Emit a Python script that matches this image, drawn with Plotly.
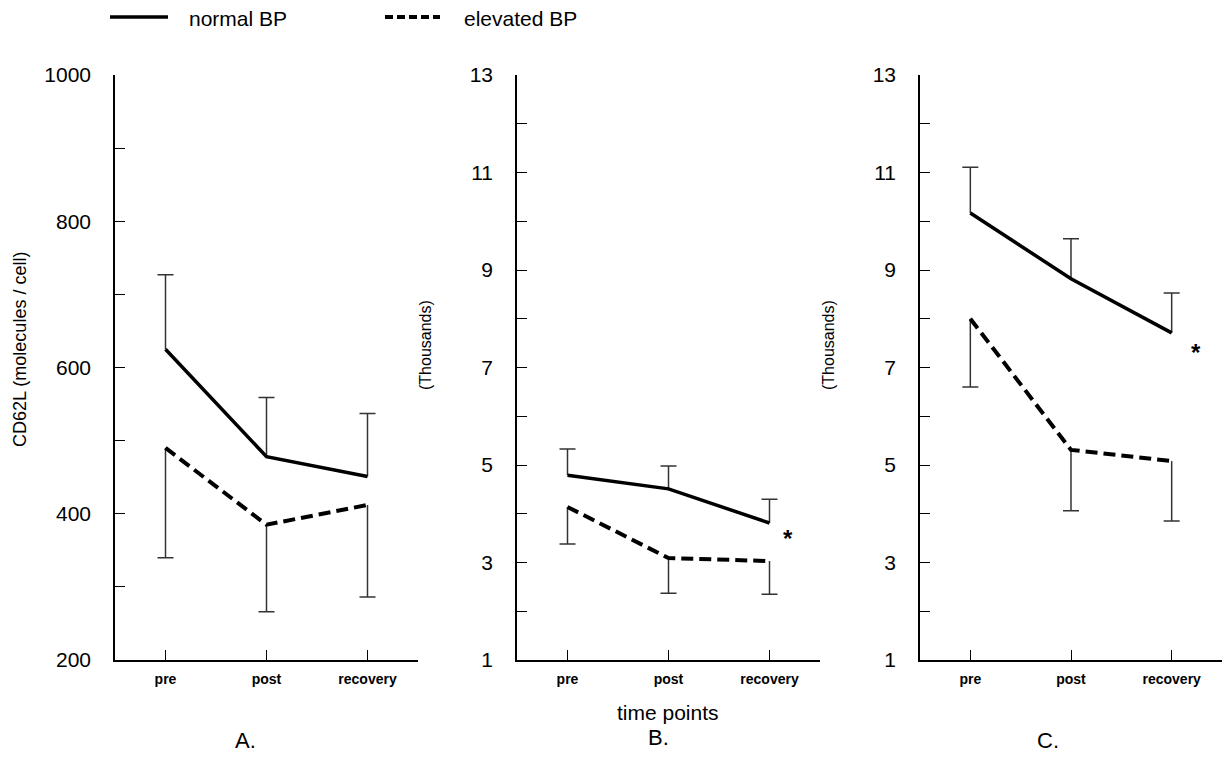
import plotly.graph_objects as go
from plotly.subplots import make_subplots

# ---------------- data ----------------
categories = ["pre", "post", "recovery"]

# Panel A: CD62L (molecules / cell)
a_normal = [625, 478, 451]
a_normal_upper = [727, 559, 537]
a_elevated = [490, 385, 412]
a_elevated_lower = [340, 266, 286]

# Panel B (Thousands)
b_normal = [4.79, 4.51, 3.81]
b_normal_upper = [5.33, 4.98, 4.30]
b_elevated = [4.14, 3.09, 3.03]
b_elevated_lower = [3.38, 2.37, 2.35]

# Panel C (Thousands)
c_normal = [10.17, 8.82, 7.71]
c_normal_upper = [11.11, 9.64, 8.53]
c_elevated = [8.0, 5.31, 5.08]
c_elevated_lower = [6.6, 4.06, 3.85]

a_ticks = [200, 400, 600, 800, 1000]
bc_ticks = [1, 3, 5, 7, 9, 11, 13]

series_names = ["normal BP", "elevated BP"]

FONT = "Liberation Sans, Arial, sans-serif"
W, H = 1229, 776

fig = make_subplots(rows=1, cols=3)

panels = [
    (1, a_normal, a_normal_upper, a_elevated, a_elevated_lower),
    (2, b_normal, b_normal_upper, b_elevated, b_elevated_lower),
    (3, c_normal, c_normal_upper, c_elevated, c_elevated_lower),
]

ERR_COLOR = "#333333"

def err_traces(col, mean, bound, up):
    diff = [abs(b - m) for b, m in zip(bound, mean)]
    zeros = [0] * len(mean)
    # vertical bar (no caps)
    fig.add_trace(go.Scatter(
        x=categories, y=mean, mode="markers",
        marker=dict(size=1, opacity=0),
        error_y=dict(type="data", symmetric=False,
                     array=diff if up else zeros,
                     arrayminus=zeros if up else diff,
                     width=0, thickness=1.5, color=ERR_COLOR),
        showlegend=False, hoverinfo="skip"), row=1, col=col)
    # cap at the end of the bar
    fig.add_trace(go.Scatter(
        x=categories, y=bound, mode="markers",
        marker=dict(size=1, opacity=0),
        error_y=dict(type="data", array=zeros, width=8,
                     thickness=1.5, color=ERR_COLOR),
        showlegend=False, hoverinfo="skip"), row=1, col=col)

for col, nm, nmu, el, ell in panels:
    err_traces(col, nm, nmu, True)
    err_traces(col, el, ell, False)
    fig.add_trace(go.Scatter(
        x=categories, y=nm, mode="lines", name=series_names[0],
        line=dict(color="black", width=3.5), showlegend=False), row=1, col=col)
    fig.add_trace(go.Scatter(
        x=categories, y=el, mode="lines", name=series_names[1],
        line=dict(color="black", width=4, dash="12px,6px"), showlegend=False), row=1, col=col)

x_domains = [(115 / W, 418 / W), (517 / W, 820 / W), (920 / W, 1222 / W)]
y_domain = (1 - 660 / H, 1 - 75 / H)

for i in range(3):
    fig.update_xaxes(
        domain=x_domains[i], range=[-0.5, 2.5], type="category", automargin=False,
        showline=True, linecolor="black", linewidth=1.5,
        ticks="inside", ticklen=10, tickwidth=1.2, tickcolor="black",
        showgrid=False, zeroline=False, ticklabelstandoff=5,
        tickfont=dict(family=FONT, size=14, color="black", weight="bold"),
        row=1, col=i + 1)
    if i == 0:
        fig.update_yaxes(range=[200, 1000], tickvals=a_ticks,
                         minor=dict(dtick=100, tick0=200, ticks="inside", ticklen=10,
                                    tickwidth=1.2, tickcolor="black"),
                         row=1, col=1)
    else:
        fig.update_yaxes(range=[1, 13], tickvals=bc_ticks,
                         minor=dict(dtick=1, tick0=1, ticks="inside", ticklen=10,
                                    tickwidth=1.2, tickcolor="black"),
                         row=1, col=i + 1)
    fig.update_yaxes(
        domain=y_domain, automargin=False, showline=True, linecolor="black", linewidth=1.5,
        ticks="inside", ticklen=10, tickwidth=1.2, tickcolor="black",
        showgrid=False, zeroline=False, ticklabelstandoff=18,
        tickfont=dict(family=FONT, size=21, color="black"),
        row=1, col=i + 1)

annotations = []
def ann(text, x, y, size, angle=0, xref="paper", yref="paper", bold=False, xanchor="center"):
    annotations.append(dict(
        text=text, x=x, y=y, xref=xref, yref=yref, showarrow=False,
        textangle=angle, xanchor=xanchor, yanchor="middle",
        font=dict(family=FONT, size=size, color="black",
                  weight="bold" if bold else "normal")))

# axis titles
ann("CD62L (molecules / cell)", 20 / W, 1 - 350 / H, 18, angle=-90)
ann("(Thousands)", 425 / W, 1 - 345 / H, 16, angle=-90)
ann("(Thousands)", 828 / W, 1 - 345 / H, 16, angle=-90)
ann("time points", 668 / W, 1 - 712 / H, 21)
# panel letters
ann("A.", 245 / W, 1 - 740 / H, 22)
ann("B.", 658 / W, 1 - 737 / H, 22)
ann("C.", 1048 / W, 1 - 740 / H, 22)
# significance markers
annotations.append(dict(text="*", x=2.18, y=3.5, xref="x2", yref="y2", showarrow=False,
                        font=dict(family=FONT, size=24, color="black", weight="bold")))
annotations.append(dict(text="*", x=2.24, y=7.3, xref="x3", yref="y3", showarrow=False,
                        font=dict(family=FONT, size=24, color="black", weight="bold")))
# legend text
ann(series_names[0], 187 / W, 1 - 18 / H, 21, xanchor="left")
ann(series_names[1], 462 / W, 1 - 18 / H, 21, xanchor="left")

shapes = [
    dict(type="line", xref="paper", yref="paper", x0=110 / W, x1=168 / W,
         y0=1 - 17 / H, y1=1 - 17 / H, line=dict(color="black", width=3.5)),
    dict(type="line", xref="paper", yref="paper", x0=385 / W, x1=440 / W,
         y0=1 - 17 / H, y1=1 - 17 / H, line=dict(color="black", width=4, dash="8px,4px")),
]

fig.update_layout(
    width=W, height=H, margin=dict(l=0, r=0, t=0, b=0),
    paper_bgcolor="white", plot_bgcolor="white",
    annotations=annotations, shapes=shapes, showlegend=False,
    font=dict(family=FONT, color="black"),
)

fig.write_html("out.html")
